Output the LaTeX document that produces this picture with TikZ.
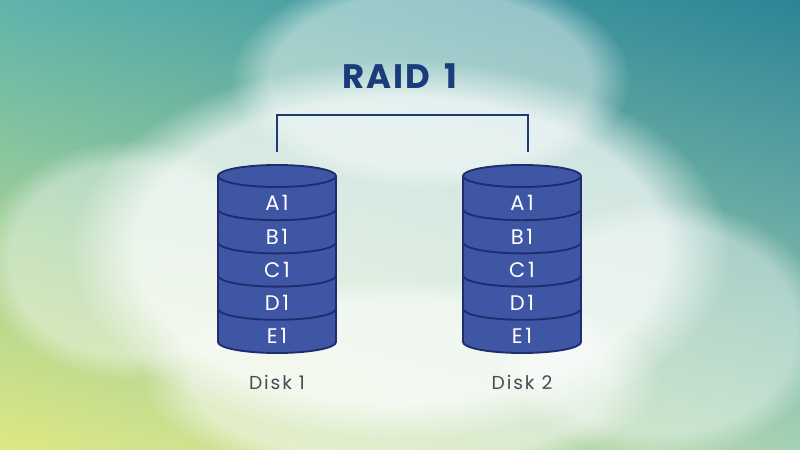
\documentclass[tikz,border=0pt]{standalone}
\usepackage{fontspec}
\setmainfont{Poppins}
\usetikzlibrary{fadings, shadings}

\definecolor{diskblue}{HTML}{3F56A5}
\definecolor{diskline}{HTML}{1E2D6E}
\definecolor{titleblue}{HTML}{1C3B7A}
\definecolor{labelgrey}{HTML}{474C52}
\definecolor{skyul}{RGB}{95,180,172}
\definecolor{skyur}{RGB}{44,132,150}
\definecolor{skyll}{RGB}{222,232,130}
\definecolor{skylr}{RGB}{165,210,180}

\tikzset{
  cloud/.style={white, opacity=#1, path fading=circle with fuzzy edge 20 percent},
  disklabel/.style={text=white, font=\fontsize{18}{18}\selectfont\addfontfeatures{LetterSpace=12}},
  diskname/.style={text=labelgrey, font=\fontsize{16}{16}\selectfont\addfontfeatures{LetterSpace=10}},
}

\begin{document}
\begin{tikzpicture}[x=0.03cm, y=-0.03cm]
  % sky background
  \useasboundingbox (0,0) rectangle (800,450);
  \shade[upper left=skyul, upper right=skyur, lower left=skyll, lower right=skylr]
        (0,0) rectangle (800,450);
  \fill[cloud=0.7] (400,250) ellipse (330 and 190);
  \fill[cloud=0.45] (430,80) ellipse (200 and 110);
  \fill[cloud=0.4] (130,260) ellipse (150 and 120);
  \fill[cloud=0.4] (660,330) ellipse (170 and 130);
  \fill[cloud=0.5] (400,380) ellipse (260 and 100);

  % title
  \node[text=titleblue, font=\fontsize{29}{29}\selectfont\bfseries\addfontfeatures{LetterSpace=5}] (title) at (400,76) {RAID\hspace{5pt} 1};

  % disks
  \foreach \name/\cx in {1/277, 2/522} {
    \fill[diskblue] (\cx-59,176) -- (\cx-59,342) arc (180:0:59 and 11)
                    -- (\cx+59,176) arc (0:-180:59 and 11) -- cycle;
    \draw[diskline, line width=1.6pt] (\cx,176) ellipse (59 and 11);
    \foreach \yy in {209.2, 242.4, 275.6, 308.8}
      \draw[diskline, line width=1.6pt] (\cx-59,\yy) arc (180:0:59 and 11);
    \draw[diskline, line width=1.6pt] (\cx-59,176) -- (\cx-59,342) arc (180:0:59 and 11) -- (\cx+59,176);
    \foreach \lbl [count=\i] in {A1, B1, C1, D1, E1}
      \node[disklabel] (d\name\lbl) at (\cx, 170+\i*33.2) {\lbl};
    \node[diskname] (disk\name) at (\cx,382) {Disk \name};
  }
  \coordinate (top1) at (277,152);
  \coordinate (top2) at (528,152);

  % mirror bracket
  \draw[titleblue, line width=1.3pt] (top1) -- (277,115) -| (top2);
\end{tikzpicture}
\end{document}
